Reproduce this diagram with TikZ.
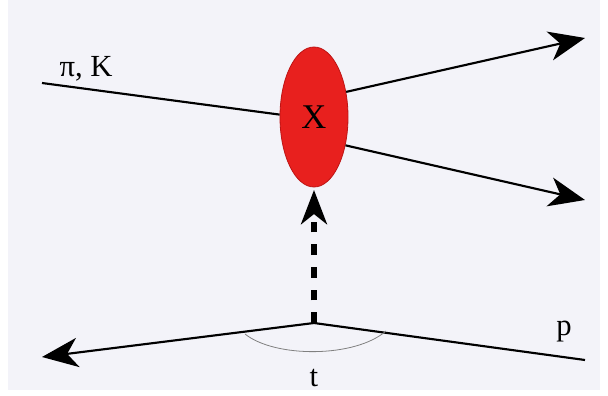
\documentclass[tikz,border=0pt]{standalone}
\usepackage{fontspec}
\setmainfont{Liberation Serif}
\usetikzlibrary{arrows.meta,shapes.geometric}
\definecolor{bgc}{RGB}{243,243,249}
\definecolor{blob}{RGB}{232,32,30}
\definecolor{blobedge}{RGB}{190,20,20}
\tikzset{
  prt/.style={line width=1.6pt,black},
  tip/.style={-{Stealth[length=27pt,width=22pt,inset=8pt]}},
  lbl/.style={font=\fontsize{23}{25}\selectfont,inner sep=0pt},
}
\begin{document}
\begin{tikzpicture}[x=0.75pt,y=-0.75pt]
\useasboundingbox (0,0) rectangle (608,396);
\fill[white] (0,0) rectangle (608,396);
\fill[bgc] (8,0) rectangle (600,390);
% blob
\node[ellipse,fill=blob,draw=blobedge,line width=0.6pt,minimum width=51pt,minimum height=105pt,inner sep=0pt,
  font=\fontsize{26}{28}\selectfont] (X) at (314,117) {X};
% coordinates
\coordinate (in) at (42,83);
\coordinate (o1) at (585,38);
\coordinate (o2) at (585,200);
\coordinate (v) at (314,323);
\coordinate (bl) at (42,357);
\coordinate (br) at (585,360);
\coordinate (a1) at (245,334);
\coordinate (a2) at (386,331);
% lines
\draw[prt] (in) -- (X.176);
\draw[prt,tip] (X.38) -- (o1);
\draw[prt,tip] (X.-42) -- (o2);
\draw[line width=4.5pt,dash pattern=on 8pt off 9pt,-{Stealth[length=26pt,width=20pt,inset=8pt,line width=0pt]}] (v) -- ([yshift=-2pt]X.south);
\draw[prt,tip] (v) -- (bl);
\draw[prt] (v) -- (br);
\draw[gray,line width=0.6pt] (a1) .. controls (275,358) and (355,358) .. (a2);
% labels
\node[lbl] (pk) at (86,69) {π, K};
\node[lbl] (p) at (564,332) {p};
\node[lbl] (t) at (314,378) {t};
\end{tikzpicture}
\end{document}
